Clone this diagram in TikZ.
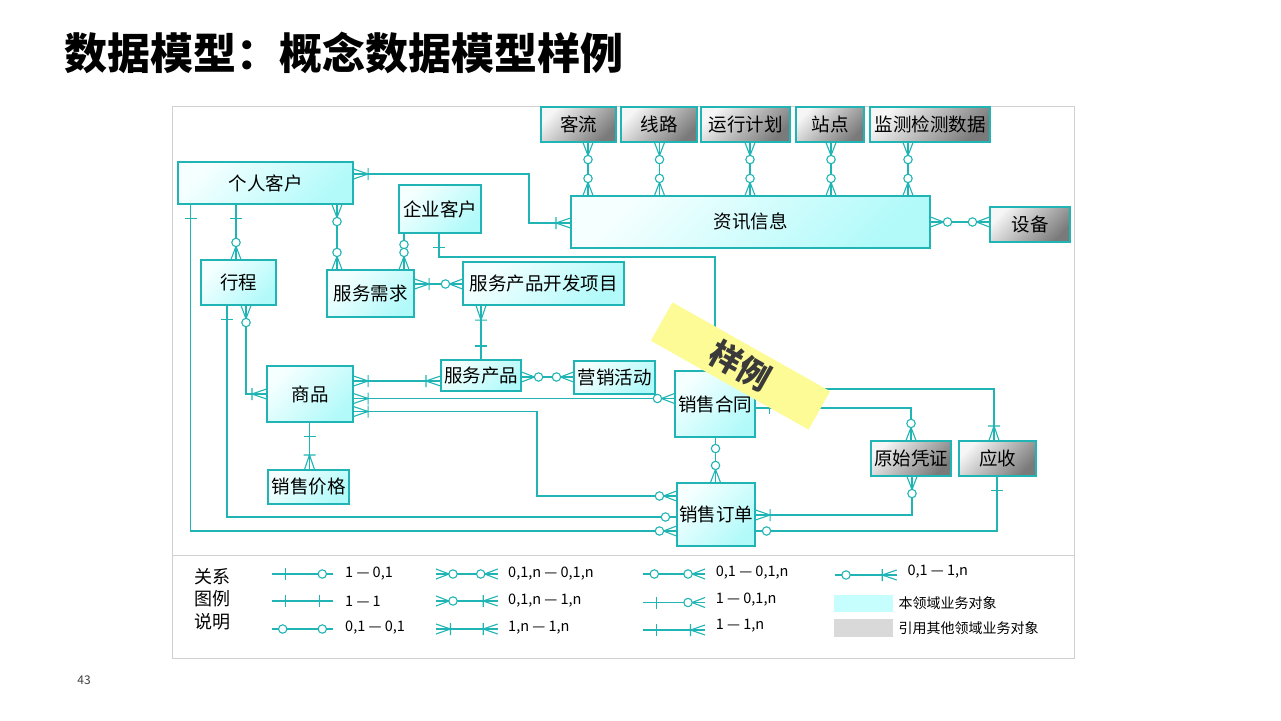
\documentclass[tikz,border=0pt]{standalone}
\usepackage{fontspec}
\setmainfont{Noto Sans CJK SC}
\usetikzlibrary{calc}

\definecolor{lnc}{RGB}{32,180,180}
\definecolor{cyTop}{RGB}{246,255,255}
\definecolor{cyBot}{RGB}{178,250,250}
\definecolor{gyTop}{RGB}{246,246,246}
\definecolor{gyBot}{RGB}{122,122,122}
\definecolor{frameGray}{RGB}{208,208,208}
\definecolor{swCyan}{RGB}{198,253,253}
\definecolor{swGray}{RGB}{217,217,217}
\definecolor{bannerY}{RGB}{253,251,150}
\definecolor{bannerT}{RGB}{58,58,58}

% ER end marks, drawn in a local frame whose x axis points away from the entity
\newcommand\erm[3]{\begin{scope}[shift={#1},rotate=#2]\csname erk#3\endcsname\end{scope}}
\newcommand\erkone{\draw[conn] (13.5,-6) -- (13.5,6);}
\newcommand\erkzero{\draw[conn,fill=white] (11,0) circle[radius=4.2];}
\newcommand\erkmone{\draw[conn] (0,5) -- (14.5,0) -- (0,-5) (14.5,-6) -- (14.5,6);}
\newcommand\erkmzero{\draw[conn] (0,5) -- (13,0) -- (0,-5);\draw[conn,fill=white] (17,0) circle[radius=4.2];}

\tikzset{
  conn/.style={draw=lnc, line width=1.1pt},
  ebox/.style={draw=lnc, line width=1.1pt, inner sep=0pt,
    font=\fontsize{18.5}{20}\selectfont,
    top color=cyTop, bottom color=cyBot, shading angle=45},
  gbox/.style={ebox, top color=gyTop, bottom color=gyBot, shading angle=45},
  legtxt/.style={anchor=west, inner sep=0pt, font=\fontsize{14.5}{16}\selectfont},
}

\begin{document}
\begin{tikzpicture}[x=1pt,y=-1pt]
\useasboundingbox (0,0) rectangle (1281,720);
\fill[white] (0,0) rectangle (1281,720);

% heading and page number
\node[anchor=west, inner sep=0pt, font=\fontsize{43}{44}\selectfont\bfseries] (title) at (64,53) {数据模型：概念数据模型样例};
\node[inner sep=0pt, font=\fontsize{12}{12}\selectfont, text=black!75] (pageno) at (84,680) {43};

% frame with legend separator
\draw[frameGray, line width=1pt] (172,106) rectangle (1074,658);
\draw[frameGray, line width=1pt] (172,555.5) -- (1074,555.5);

% entities
\node[gbox, minimum width=75pt, minimum height=35pt] (kl) at (578.5,124.5) {客流};
\node[gbox, minimum width=76pt, minimum height=35pt] (xl) at (659,124.5) {线路};
\node[gbox, minimum width=89pt, minimum height=35pt] (yx) at (745.5,124.5) {运行计划};
\node[gbox, minimum width=68pt, minimum height=35pt] (zd) at (830,124.5) {站点};
\node[gbox, minimum width=120pt, minimum height=35pt] (jc) at (930,124.5) {监测检测数据};
\node[ebox, minimum width=359pt, minimum height=52pt] (zx) at (750.5,222) {资讯信息};
\node[gbox, minimum width=80pt, minimum height=35pt] (sb) at (1030,224.5) {设备};
\node[ebox, minimum width=175pt, minimum height=42pt] (gr) at (265.5,183) {个人客户};
\node[ebox, minimum width=82pt, minimum height=48pt] (qy) at (440,209) {企业客户};
\node[ebox, minimum width=75pt, minimum height=45pt] (xc) at (238.5,282.5) {行程};
\node[ebox, minimum width=87pt, minimum height=47pt] (xq) at (370.5,293.5) {服务需求};
\node[ebox, minimum width=161pt, minimum height=43pt] (kf) at (543.5,283.5) {服务产品开发项目};
\node[ebox, minimum width=80pt, minimum height=31pt] (cp) at (481,375.5) {服务产品};
\node[ebox, minimum width=81pt, minimum height=33pt] (yh) at (614.5,377.5) {营销活动};
\node[ebox, minimum width=86pt, minimum height=56pt] (sp) at (310,394) {商品};
\node[ebox, minimum width=81pt, minimum height=34pt] (jg) at (308.5,487) {销售价格};
\node[ebox, minimum width=80pt, minimum height=66pt] (ht) at (715,404) {销售合同};
\node[ebox, minimum width=78pt, minimum height=63pt] (dd) at (716,514.5) {销售订单};
\node[gbox, minimum width=80pt, minimum height=35pt] (pz) at (911,458.5) {原始凭证};
\node[gbox, minimum width=77pt, minimum height=35pt] (ys) at (997.5,458.5) {应收};

% relationships: 资讯信息 and its sources
\foreach \src/\xx in {kl/588, xl/659.5, yx/750, zd/831, jc/908}{
  \draw[conn] (\xx,0 |- \src.south) -- (\xx,0 |- zx.north);
  \erm{(\xx,0 |- \src.south)}{270}{mzero}
  \erm{(\xx,0 |- zx.north)}{90}{mzero}
}
\draw[conn] (zx.east |- 0,222) -- (sb.west |- 0,222);
\erm{(zx.east |- 0,222)}{0}{mzero}
\erm{(sb.west |- 0,222)}{180}{mzero}

% 个人客户 -- 资讯信息
\draw[conn] (gr.east |- 0,174) -| (529,223) -- (zx.west |- 0,223);
\erm{(gr.east |- 0,174)}{0}{mone}
\erm{(zx.west |- 0,223)}{180}{mone}

% 个人客户 -- 行程
\draw[conn] (236,0 |- gr.south) -- (236,0 |- xc.north);
\erm{(236,0 |- gr.south)}{270}{one}
\erm{(236,0 |- xc.north)}{90}{mzero}

% 个人客户 -- 服务需求
\draw[conn] (337,0 |- gr.south) -- (337,0 |- xq.north);
\erm{(337,0 |- gr.south)}{270}{mzero}
\erm{(337,0 |- xq.north)}{90}{mzero}

% 企业客户 -- 服务需求
\draw[conn] (404,0 |- qy.south) -- (404,0 |- xq.north);
\erm{(404,0 |- qy.south)}{270}{zero}
\erm{(404,0 |- xq.north)}{90}{mzero}

% 企业客户 -- 销售合同
\draw[conn] (439,0 |- qy.south) |- (715,257) -- (715,0 |- ht.north);
\erm{(439,0 |- qy.south)}{270}{one}

% 服务需求 -- 服务产品开发项目
\draw[conn] (xq.east |- 0,284) -- (kf.west |- 0,284);
\erm{(xq.east |- 0,284)}{0}{mone}
\erm{(kf.west |- 0,284)}{180}{mzero}

% 服务产品开发项目 -- 服务产品
\draw[conn] (481,0 |- kf.south) -- (481,0 |- cp.north);
\erm{(481,0 |- kf.south)}{270}{mone}
\erm{(481,0 |- cp.north)}{90}{one}

% 服务产品 -- 营销活动
\draw[conn] (cp.east |- 0,377) -- (yh.west |- 0,377);
\erm{(cp.east |- 0,377)}{0}{mzero}
\erm{(yh.west |- 0,377)}{180}{mzero}

% 商品 -- 服务产品
\draw[conn] (sp.east |- 0,381) -- (cp.west |- 0,381);
\erm{(sp.east |- 0,381)}{0}{mone}
\erm{(cp.west |- 0,381)}{180}{mone}

% 商品 -- 销售合同
\draw[conn] (sp.east |- 0,398.5) -- (ht.west |- 0,398.5);
\erm{(sp.east |- 0,398.5)}{0}{mone}
\erm{(ht.west |- 0,398.5)}{180}{mzero}

% 商品 -- 销售订单
\draw[conn] (sp.east |- 0,411.5) -| (537,496) -- (dd.west |- 0,496);
\erm{(sp.east |- 0,411.5)}{0}{mone}
\erm{(dd.west |- 0,496)}{180}{mzero}

% 行程 -- 商品
\draw[conn] (246,0 |- xc.south) |- (sp.west |- 0,394);
\erm{(246,0 |- xc.south)}{270}{mzero}
\erm{(sp.west |- 0,394)}{180}{mone}

% 行程 -- 销售订单
\draw[conn] (227,0 |- xc.south) |- (dd.west |- 0,517);
\erm{(227,0 |- xc.south)}{270}{one}
\erm{(dd.west |- 0,517)}{180}{zero}

% 个人客户 -- 销售订单
\draw[conn] (190.5,0 |- gr.south) |- (dd.west |- 0,531);
\erm{(190.5,0 |- gr.south)}{270}{one}
\erm{(dd.west |- 0,531)}{180}{mzero}

% 商品 -- 销售价格
\draw[conn] (309.5,0 |- sp.south) -- (309.5,0 |- jg.north);
\erm{(309.5,0 |- sp.south)}{270}{one}
\erm{(309.5,0 |- jg.north)}{90}{mone}

% 销售合同 -- 销售订单
\draw[conn] (715.5,0 |- ht.south) -- (715.5,0 |- dd.north);
\erm{(715.5,0 |- ht.south)}{270}{zero}
\erm{(715.5,0 |- dd.north)}{90}{mzero}

% 销售合同 -- 原始凭证
\draw[conn] (ht.east |- 0,408) -| (911,0 |- pz.north);
\erm{(ht.east |- 0,408)}{0}{one}
\erm{(911,0 |- pz.north)}{90}{mzero}

% 销售合同 -- 应收
\draw[conn] (ht.east |- 0,389) -| (994,0 |- ys.north);
\erm{(994,0 |- ys.north)}{90}{mone}

% 原始凭证 -- 销售订单
\draw[conn] (912,0 |- pz.south) |- (dd.east |- 0,515);
\erm{(912,0 |- pz.south)}{270}{mzero}
\erm{(dd.east |- 0,515)}{0}{mone}

% 应收 -- 销售订单
\draw[conn] (997,0 |- ys.south) |- (dd.east |- 0,531);
\erm{(997,0 |- ys.south)}{270}{one}
\erm{(dd.east |- 0,531)}{0}{zero}

% sample stamp
\node[fill=bannerY, minimum width=181pt, minimum height=44pt, inner sep=0pt, rotate=-29.4,
      text=bannerT, font=\fontsize{32}{32}\selectfont\bfseries] (stamp) at (740.5,366) {样例};

% legend
\node[anchor=west, inner sep=0pt, align=left, font=\fontsize{18}{22.5}\selectfont] (legtitle) at (194,599) {关系\\图例\\说明};

% column 1
\coordinate (a1) at (271.7,574); \coordinate (b1) at (333.3,574);
\coordinate (a2) at (271.7,601); \coordinate (b2) at (333.3,601);
\coordinate (a3) at (271.7,629); \coordinate (b3) at (333.3,629);
\draw[conn] (a1) -- (b1); \erm{(a1)}{0}{one} \erm{(b1)}{180}{zero}
\draw[conn] (a2) -- (b2); \erm{(a2)}{0}{one} \erm{(b2)}{180}{one}
\draw[conn] (a3) -- (b3); \erm{(a3)}{0}{zero} \erm{(b3)}{180}{zero}
\node[legtxt] (t11) at (345,574) {1 — 0,1};
\node[legtxt] (t12) at (345,601) {1 — 1};
\node[legtxt] (t13) at (345,628) {0,1 — 0,1};

% column 2
\coordinate (c1) at (436,574); \coordinate (d1) at (497.7,574);
\coordinate (c2) at (436,601); \coordinate (d2) at (497.7,601);
\coordinate (c3) at (436,629); \coordinate (d3) at (497.7,629);
\draw[conn] (c1) -- (d1); \erm{(c1)}{0}{mzero} \erm{(d1)}{180}{mzero}
\draw[conn] (c2) -- (d2); \erm{(c2)}{0}{mzero} \erm{(d2)}{180}{mone}
\draw[conn] (c3) -- (d3); \erm{(c3)}{0}{mone} \erm{(d3)}{180}{mone}
\node[legtxt] (t21) at (508,574) {0,1,n — 0,1,n};
\node[legtxt] (t22) at (508,601) {0,1,n — 1,n};
\node[legtxt] (t23) at (508,628) {1,n — 1,n};

% column 3
\coordinate (e1) at (643.3,574); \coordinate (f1) at (705,574);
\coordinate (e2) at (643.3,602.5); \coordinate (f2) at (705,602.5);
\coordinate (e3) at (643.3,630); \coordinate (f3) at (705,630);
\draw[conn] (e1) -- (f1); \erm{(e1)}{0}{zero} \erm{(f1)}{180}{mzero}
\draw[conn] (e2) -- (f2); \erm{(e2)}{0}{one} \erm{(f2)}{180}{mzero}
\draw[conn] (e3) -- (f3); \erm{(e3)}{0}{one} \erm{(f3)}{180}{mone}
\node[legtxt] (t31) at (715.7,572.5) {0,1 — 0,1,n};
\node[legtxt] (t32) at (715.7,599.5) {1 — 0,1,n};
\node[legtxt] (t33) at (715.7,626) {1 — 1,n};

% column 4
\coordinate (g1) at (835,575); \coordinate (h1) at (896.7,575);
\draw[conn] (g1) -- (h1); \erm{(g1)}{0}{zero} \erm{(h1)}{180}{mone}
\node[legtxt] (t41) at (907.3,571.5) {0,1 — 1,n};
\node[fill=swCyan, minimum width=59pt, minimum height=17.5pt, inner sep=0pt] (swc) at (863.5,603.6) {};
\node[fill=swGray, minimum width=59pt, minimum height=17.5pt, inner sep=0pt] (swg) at (863.5,627.9) {};
\node[legtxt, font=\fontsize{14}{16}\selectfont] (t42) at (898.3,603.3) {本领域业务对象};
\node[legtxt, font=\fontsize{14}{16}\selectfont] (t43) at (898.3,627.7) {引用其他领域业务对象};
\end{tikzpicture}
\end{document}
